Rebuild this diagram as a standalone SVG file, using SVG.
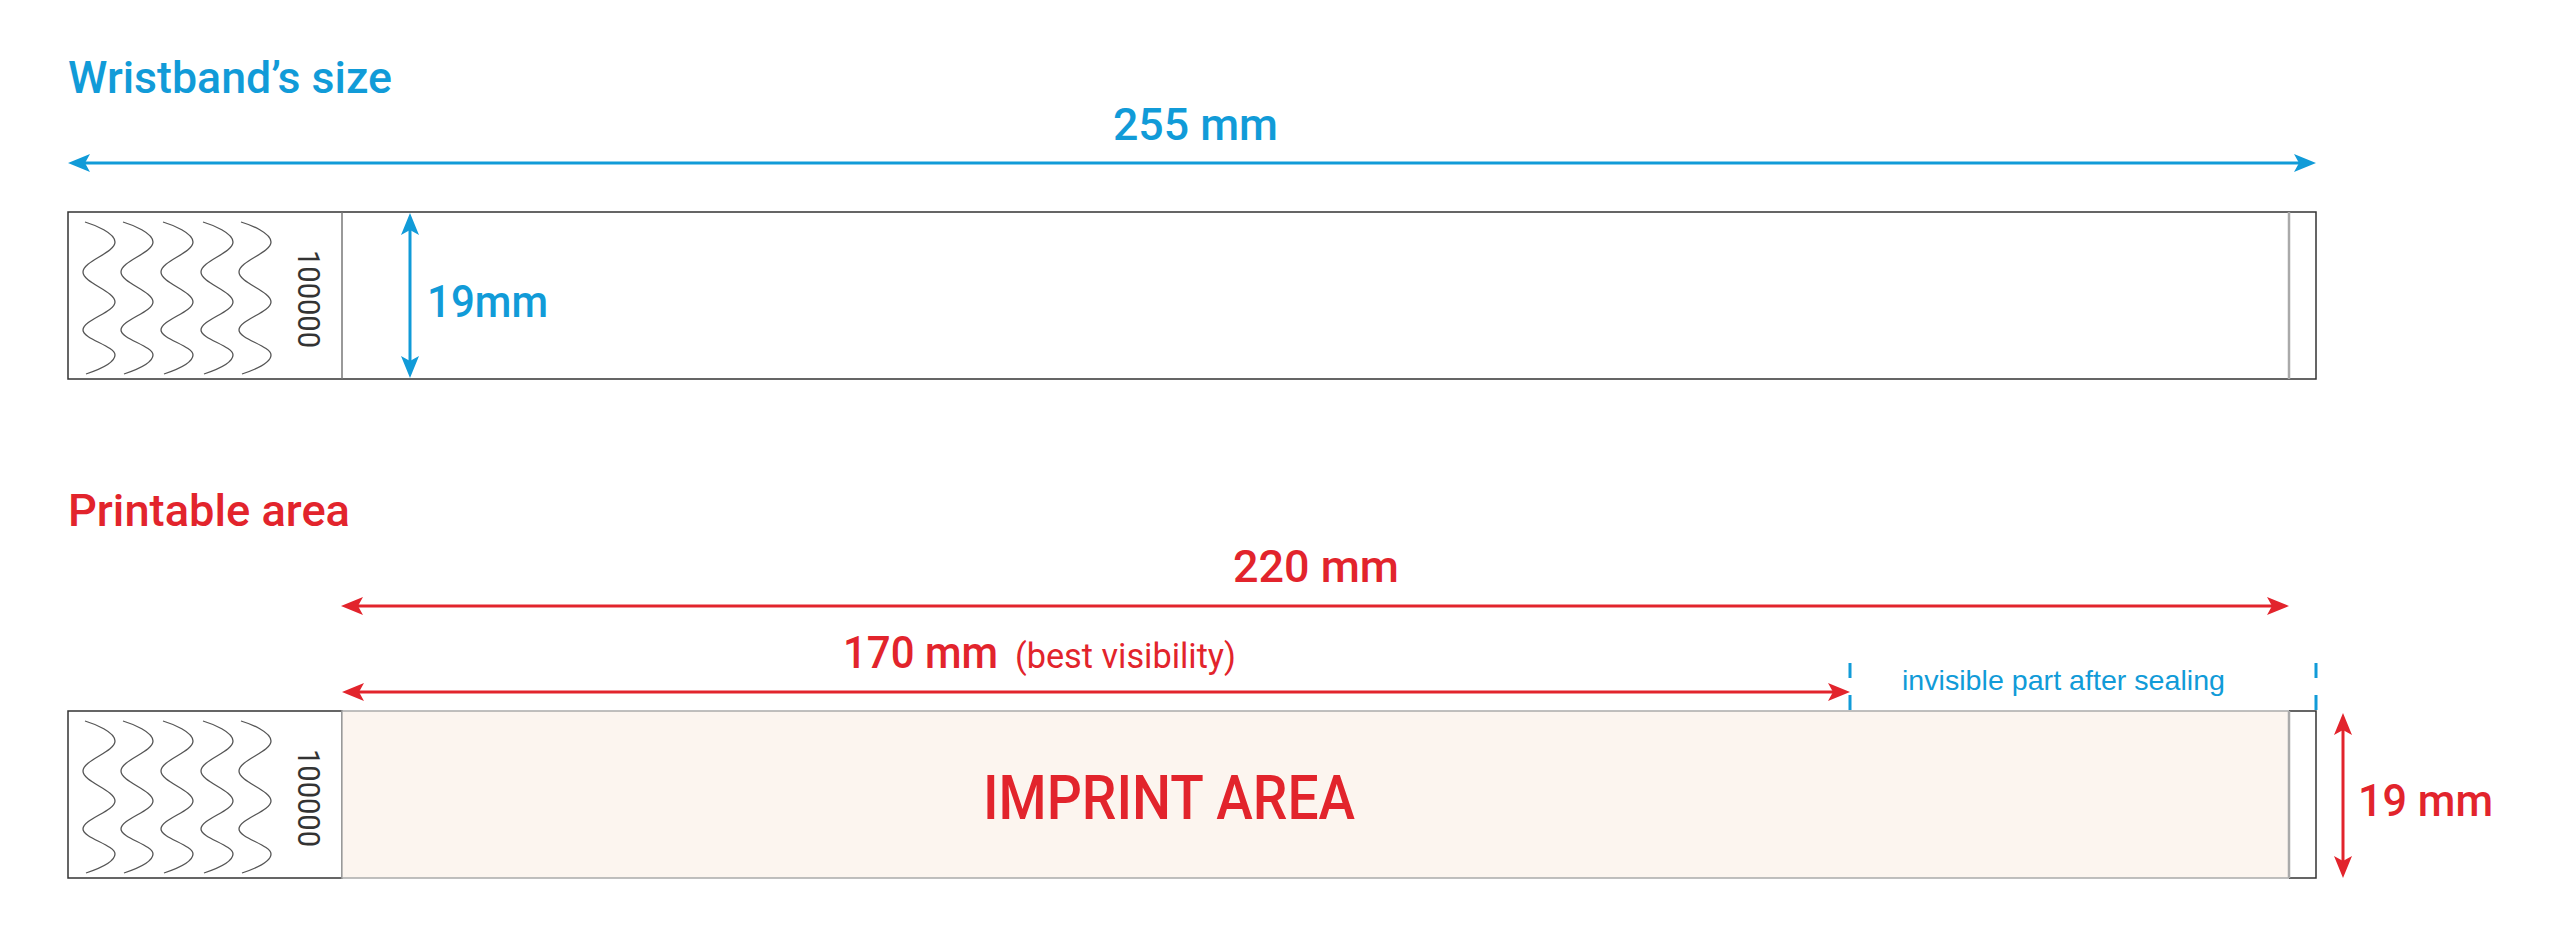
<svg xmlns="http://www.w3.org/2000/svg" xmlns:xlink="http://www.w3.org/1999/xlink" width="2560" height="937" viewBox="0 0 2560 937">
<style>
.lbl{font-family:Roboto,"Liberation Sans",Arial,sans-serif;font-weight:500;font-size:45px}
.blue{fill:#119bd8}
.red{fill:#e2242c}
.num{font-family:Roboto,"Liberation Sans",Arial,sans-serif;font-size:31px;fill:#333}
.band{fill:#fff;stroke:#333;stroke-width:1.5}
.wave{fill:none;stroke:#555;stroke-width:1.3}
.bl{stroke:#119bd8;stroke-width:3;fill:none}
.rl{stroke:#e2242c;stroke-width:3;fill:none}
</style>
<defs>
<marker id="ab" viewBox="0 0 22 18" refX="16" refY="9" markerWidth="22" markerHeight="18" markerUnits="userSpaceOnUse" orient="auto-start-reverse"><path d="M0,0 L22,9 L0,18 L5,9 Z" fill="#119bd8"/></marker>
<marker id="ar" viewBox="0 0 22 18" refX="16" refY="9" markerWidth="22" markerHeight="18" markerUnits="userSpaceOnUse" orient="auto-start-reverse"><path d="M0,0 L22,9 L0,18 L5,9 Z" fill="#e2242c"/></marker>
<path id="wv" class="wave" d="M-14,222 C-4,225 16,233 16,242 C16,253 -16,261 -16,272 C-16,283 16,291 16,302 C16,312 -16,320 -16,330 C-16,339 16,346 16,355 C16,364 -4,371 -13,374"/>
<g id="waves">
<use xlink:href="#wv" href="#wv" transform="translate(99,0)"/>
<use xlink:href="#wv" href="#wv" transform="translate(137,0)"/>
<use xlink:href="#wv" href="#wv" transform="translate(177,0)"/>
<use xlink:href="#wv" href="#wv" transform="translate(217,0)"/>
<use xlink:href="#wv" href="#wv" transform="translate(255,0)"/>
</g>
</defs>

<g id="title-size">
<text class="lbl blue" x="68" y="93" textLength="324" lengthAdjust="spacingAndGlyphs">Wristband’s size</text>
</g>

<g id="band1">
<rect class="band" x="68" y="212" width="2248" height="167"/>
<line x1="342" y1="212" x2="342" y2="379" stroke="#777" stroke-width="1.5"/>
<line x1="2289" y1="212" x2="2289" y2="379" stroke="#aaa" stroke-width="2.5"/>
<use xlink:href="#waves" href="#waves"/>
<text class="num" x="298" y="250" transform="rotate(90 298 250)" textLength="98" lengthAdjust="spacingAndGlyphs">100000</text>
</g>

<g id="title-print">
<text class="lbl red" x="68" y="526" textLength="282" lengthAdjust="spacingAndGlyphs">Printable area</text>
</g>

<g id="band2">
<rect class="band" x="68" y="711" width="274" height="167"/>
<rect x="342" y="711" width="1947" height="167" fill="#fcf5ef" stroke="#aaa" stroke-width="1.5"/>
<path d="M2289,711 H2316 V878 H2289" fill="#fff" stroke="#333" stroke-width="1.5"/>
<line x1="2289" y1="711" x2="2289" y2="878" stroke="#aaa" stroke-width="2.5"/>
<use xlink:href="#waves" href="#waves" transform="translate(0,499)"/>
<text class="num" x="298" y="749" transform="rotate(90 298 749)" textLength="98" lengthAdjust="spacingAndGlyphs">100000</text>
<text class="lbl red" x="983" y="819" style="font-size:62px" textLength="372" lengthAdjust="spacingAndGlyphs">IMPRINT AREA</text>
</g>

<g id="connectors">
<line class="bl" x1="74" y1="163" x2="2310" y2="163" marker-start="url(#ab)" marker-end="url(#ab)"/>
<line class="bl" x1="410" y1="219" x2="410" y2="372" marker-start="url(#ab)" marker-end="url(#ab)"/>
<line class="rl" x1="347" y1="606" x2="2283" y2="606" marker-start="url(#ar)" marker-end="url(#ar)"/>
<line class="rl" x1="348" y1="692" x2="1844" y2="692" marker-start="url(#ar)" marker-end="url(#ar)"/>
<line class="rl" x1="2343" y1="719" x2="2343" y2="872" marker-start="url(#ar)" marker-end="url(#ar)"/>
<line stroke="#119bd8" stroke-width="3" x1="1850" y1="663" x2="1850" y2="710" stroke-dasharray="15 17"/>
<line stroke="#119bd8" stroke-width="3" x1="2316" y1="663" x2="2316" y2="710" stroke-dasharray="15 17"/>
</g>

<g id="labels">
<text class="lbl blue" x="1113" y="140" textLength="165" lengthAdjust="spacingAndGlyphs">255 mm</text>
<text class="lbl blue" x="427" y="317" textLength="121" lengthAdjust="spacingAndGlyphs">19mm</text>
<text class="lbl red" x="1233" y="582" textLength="166" lengthAdjust="spacingAndGlyphs">220 mm</text>
<text class="lbl red" x="843" y="668" textLength="155" lengthAdjust="spacingAndGlyphs">170 mm</text>
<text class="lbl red" x="1015" y="668" style="font-size:35px;font-weight:400" textLength="221" lengthAdjust="spacingAndGlyphs">(best visibility)</text>
<text x="1902" y="690" font-family="'Liberation Sans',Arial,sans-serif" font-size="28" fill="#119bd8" textLength="323" lengthAdjust="spacingAndGlyphs">invisible part after sealing</text>
<text class="lbl red" x="2358" y="816" textLength="135" lengthAdjust="spacingAndGlyphs">19 mm</text>
</g>
</svg>
